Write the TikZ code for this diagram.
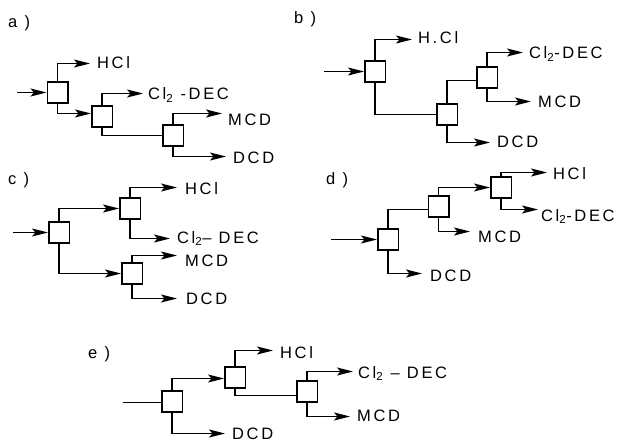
\documentclass[tikz,border=0pt]{standalone}
\usepackage{fontspec}
\setmainfont{Liberation Sans}[LetterSpace=16]
\usetikzlibrary{arrows.meta}
\tikzset{
  unit/.style={draw, line width=1.5pt, minimum width=20.5pt, minimum height=21pt, inner sep=0pt, fill=white},
  lbl/.style={anchor=west, inner sep=0pt, text height=12pt, text depth=0pt, font=\fontsize{16.5}{16.5}\selectfont},
  conn/.style={line width=1.6pt},
  arr/.style={conn, -{Stealth[length=16pt,width=8pt,inset=3.5pt]}},
}
\begin{document}
\begin{tikzpicture}[x=1pt,y=-1pt]
\useasboundingbox (0,0) rectangle (618,441);

% ---------- a ----------
\node[lbl] (la) at (8,22) {a )};
\node[unit] (a1) at (57.5,92.5) {};
\node[unit] (a2) at (102,116.5) {};
\node[unit] (a3) at (173,135.5) {};
\coordinate (ain) at (17,92.5);
\coordinate (aHe) at (90,63.5);
\coordinate (aCe) at (143,93.5);
\coordinate (aMe) at (222,113.5);
\coordinate (aDe) at (226,156.5);
\node[lbl] (aH) at (97,63) {HCl};
\node[lbl] (aC) at (148,94) {Cl\textsubscript{2} -DEC};
\node[lbl] (aM) at (228,119) {MCD};
\node[lbl] (aD) at (233,157) {DCD};
\draw[arr] (ain) -- (a1.west);
\draw[arr] (a1.south) |- ([yshift=3pt]a2.west);
\draw[arr] (a1.north) |- (aHe);
\draw[arr] (a2.north) |- (aCe);
\draw[conn] (a2.south) |- (a3.west);
\draw[arr] (a3.north) |- (aMe);
\draw[arr] (a3.south) |- (aDe);

% ---------- b ----------
\node[lbl] (lb) at (294,18) {b )};
\node[unit] (b1) at (375,71.5) {};
\node[unit] (b2) at (447,114.5) {};
\node[unit] (b3) at (487,77.5) {};
\coordinate (bin) at (324,71.5);
\coordinate (bHe) at (412,39.5);
\coordinate (bCe) at (523,52.5);
\coordinate (bMe) at (531,101.5);
\coordinate (bDe) at (490,142.5);
\node[lbl] (bH) at (418,38) {H.Cl};
\node[lbl] (bC) at (529,53) {Cl\textsubscript{2}-DEC};
\node[lbl] (bM) at (538,102) {MCD};
\node[lbl] (bD) at (497,141) {DCD};
\draw[arr] (bin) -- (b1.west);
\draw[arr] (b1.north) |- (bHe);
\draw[conn] (b1.south) |- (b2.west);
\draw[conn] (b2.north) |- ([yshift=-3pt]b3.west);
\draw[arr] (b3.north) |- (bCe);
\draw[arr] (b3.south) |- (bMe);
\draw[arr] (b2.south) |- (bDe);

% ---------- c ----------
\node[lbl] (lc) at (8,178) {c )};
\node[unit] (c1) at (59,232.5) {};
\node[unit] (c2) at (130,208.5) {};
\node[unit] (c3) at (132,273.5) {};
\coordinate (cin) at (13,232.5);
\coordinate (cHe) at (177,187.5);
\coordinate (cCe) at (170,238.5);
\coordinate (cMe) at (177,255.5);
\coordinate (cDe) at (177,298.5);
\node[lbl] (cH) at (185,188) {HCl};
\node[lbl] (cC) at (177,237) {Cl\textsubscript{2}– DEC};
\node[lbl] (cM) at (185,260) {MCD};
\node[lbl] (cD) at (186,298) {DCD};
\draw[arr] (cin) -- (c1.west);
\draw[arr] (c1.north) |- (c2.west);
\draw[arr] (c2.north) |- (cHe);
\draw[arr] (c2.south) |- (cCe);
\draw[arr] (c1.south) |- (c3.west);
\draw[arr] (c3.north) |- (cMe);
\draw[arr] (c3.south) |- (cDe);

% ---------- d ----------
\node[lbl] (ld) at (326,178) {d )};
\node[unit] (d1) at (388,239.5) {};
\node[unit] (d2) at (438.5,206.5) {};
\node[unit] (d3) at (501,187.5) {};
\coordinate (din) at (331,239.5);
\coordinate (dHe) at (547,172.5);
\coordinate (dCe) at (538,209.5);
\coordinate (dMe) at (470,231.5);
\coordinate (dDe) at (422,273.5);
\node[lbl] (dH) at (553,173) {HCl};
\node[lbl] (dC) at (541,215) {Cl\textsubscript{2}-DEC};
\node[lbl] (dM) at (478,236) {MCD};
\node[lbl] (dD) at (430,275) {DCD};
\draw[arr] (din) -- (d1.west);
\draw[conn] (d1.north) |- ([yshift=-3pt]d2.west);
\draw[arr] (d2.north) |- (d3.west);
\draw[arr] (d3.north) |- (dHe);
\draw[arr] (d3.south) |- (dCe);
\draw[arr] (d2.south) |- (dMe);
\draw[arr] (d1.south) |- (dDe);

% ---------- e ----------
\node[lbl] (le) at (88,352) {e )};
\node[unit] (e1) at (172,401.5) {};
\node[unit] (e2) at (235,377.5) {};
\node[unit] (e3) at (307,391.5) {};
\coordinate (ein) at (123,402.5);
\coordinate (eHe) at (273,350.5);
\coordinate (eCe) at (353,371.5);
\coordinate (eMe) at (350,416.5);
\coordinate (eDe) at (225,433.5);
\node[lbl] (eH) at (280,352) {HCl};
\node[lbl] (eC) at (358,372) {Cl\textsubscript{2} – DEC};
\node[lbl] (eM) at (357,415) {MCD};
\node[lbl] (eD) at (232,433) {DCD};
\draw[conn] (ein) -- ([yshift=-1pt]e1.west);
\draw[arr] (e1.north) |- ([yshift=-1pt]e2.west);
\draw[arr] (e2.north) |- (eHe);
\draw[conn] (e2.south) |- ([yshift=-4pt]e3.west);
\draw[arr] (e3.north) |- (eCe);
\draw[arr] (e3.south) |- (eMe);
\draw[arr] (e1.south) |- (eDe);
\end{tikzpicture}
\end{document}
